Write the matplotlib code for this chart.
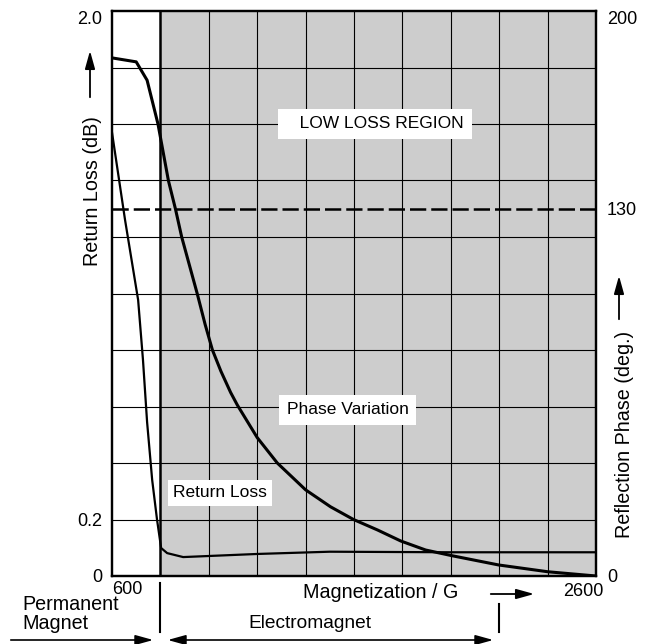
import matplotlib
matplotlib.use("Agg")
import matplotlib.pyplot as plt
from matplotlib.patches import FancyArrowPatch
from matplotlib.transforms import blended_transform_factory

plt.rcParams["font.family"] = ["Liberation Sans", "DejaVu Sans"]

# ---------------------------------------------------------------------
# Data
# ---------------------------------------------------------------------
# Phase variation (right axis, deg.) vs magnetization (G)
phase_field = [600, 700, 745, 790, 833, 862, 888, 952, 985, 1015, 1050,
               1090, 1118, 1200, 1283, 1400, 1503, 1598, 1697, 1793, 1896,
               2004, 2198, 2401, 2600]
phase_deg = [183.4, 182.0, 175.5, 160.0, 140.0, 130.0, 120.0, 100.0, 89.0,
             80.0, 72.5, 65.0, 60.5, 49.0, 40.0, 30.5, 24.5, 20.0, 16.3,
             12.4, 9.2, 7.2, 3.9, 1.5, 0.0]

# Return loss (left axis, dB) vs magnetization (G)
loss_field = [600, 654, 708, 728, 745, 766, 786, 803, 828, 894, 1200, 1500,
              2000, 2600]
loss_db = [1.57, 1.26, 0.977, 0.765, 0.545, 0.34, 0.2, 0.099, 0.081, 0.067,
           0.078, 0.086, 0.084, 0.084]

# Low-loss phase limit (deg.)
phase_limit = 130

# Region boundaries (G)
field_min, field_max = 600, 2600
electromagnet_start = 800
electromagnet_end = 2200

left_ticks = [0, 0.2, 2.0]
left_tick_labels = ["0", "0.2", "2.0"]
right_ticks = [0, 130, 200]
right_tick_labels = ["0", "130", "200"]

# ---------------------------------------------------------------------
# Figure
# ---------------------------------------------------------------------
W, H = 652, 644
fig = plt.figure(figsize=(W / 100, H / 100), dpi=100)


def fx(px):
    return px / W


def fy(py):
    return 1 - py / H


ax = fig.add_axes([fx(112), fy(576), fx(596) - fx(112), fy(11) - fy(576)])
ax2 = ax.twinx()

ax.set_xlim(field_min, field_max)
ax.set_ylim(0, 2.0)
ax2.set_ylim(0, 200)

# stippled region (electromagnet range)
ax.axvspan(electromagnet_start, field_max, color="#cdcdcd", lw=0, zorder=0)

# grid: 10 x 10 divisions
for g in range(field_min + 200, field_max, 200):
    ax.axvline(g, color="black", lw=1.8 if g == electromagnet_start else 0.8,
               zorder=1)
for v in [i * 0.2 for i in range(1, 10)]:
    ax.axhline(v, color="black", lw=0.8, zorder=1)

# curves
ax.plot(loss_field, loss_db, color="black", lw=1.6, zorder=3)
ax2.plot(phase_field, phase_deg, color="black", lw=2.2, zorder=3)
ax2.axhline(phase_limit, color="black", lw=1.8, dashes=(6.5, 2), zorder=3)

for a in (ax, ax2):
    for s in a.spines.values():
        s.set_linewidth(1.6)

# ticks
ax.set_xticks([])
ax.set_yticks(left_ticks)
ax.set_yticklabels(left_tick_labels)
ax.tick_params(axis="y", length=0, pad=7, labelsize=13)
ax2.set_yticks(right_ticks)
ax2.set_yticklabels(right_tick_labels)
ax2.tick_params(axis="y", length=0, pad=8, labelsize=13)
for lab in ax.get_yticklabels() + ax2.get_yticklabels():
    if lab.get_text() in ("2.0", "200"):
        lab.set_va("top")

# in-plot labels
box = dict(facecolor="white", edgecolor="none", boxstyle="square,pad=0.45")
ax.text(0.543, 0.8, "   LOW LOSS REGION", transform=ax.transAxes,
        ha="center", va="center", fontsize=12.5, bbox=box, zorder=4)
ax.text(0.487, 0.294, "Phase Variation", transform=ax.transAxes,
        ha="center", va="center", fontsize=12.5, bbox=box, zorder=4)
ax.text(0.223, 0.147, "Return Loss", transform=ax.transAxes,
        ha="center", va="center", fontsize=12.5,
        bbox=dict(facecolor="white", edgecolor="none",
                  boxstyle="square,pad=0.3"), zorder=4)

# x-range labels
ax.annotate("600", xy=(field_min, 0), xycoords=("data", "axes fraction"),
            xytext=(11, -10), textcoords="offset points",
            ha="center", va="center", fontsize=13, annotation_clip=False)
ax.annotate("2600", xy=(field_max, 0), xycoords=("data", "axes fraction"),
            xytext=(-9, -11.5), textcoords="offset points",
            ha="center", va="center", fontsize=13, annotation_clip=False)

head = "-|>,head_length=0.9,head_width=0.25"


def arrow(p0, p1, style=head, lw=1.3):
    fig.add_artist(FancyArrowPatch(
        (fx(p0[0]), fy(p0[1])), (fx(p1[0]), fy(p1[1])),
        transform=fig.transFigure, arrowstyle=style, color="black",
        lw=lw, mutation_scale=12))


fig.text(fx(381), fy(592), "Magnetization / G", ha="center", va="center",
         fontsize=14.2)
arrow((488, 594), (537, 594))

# axis titles with arrows
fig.text(fx(92), fy(191), "Return Loss (dB)", rotation=90,
         ha="center", va="center", fontsize=14.2)
arrow((90, 100), (90, 48))
fig.text(fx(625), fy(434), "Reflection Phase (deg.)", rotation=90,
         ha="center", va="center", fontsize=14.2)
arrow((619, 322), (619, 273))

# magnet ranges below the axis
bt = blended_transform_factory(ax.transData, fig.transFigure)
fig.add_artist(plt.Line2D([electromagnet_start] * 2, [fy(583), fy(632)],
                          transform=bt, color="black", lw=1.5))
fig.add_artist(plt.Line2D([electromagnet_end] * 2, [fy(604), fy(632)],
                          transform=bt, color="black", lw=1.5))
fig.text(fx(22), fy(614), "Permanent\nMagnet", ha="left", va="center",
         fontsize=14.2, linespacing=0.95)
fig.text(fx(310), fy(623), "Electromagnet", ha="center", va="center",
         fontsize=13.8)
arrow((8, 640), (156, 640), lw=1.2)
arrow((165, 640), (496, 640), style="<|-|>,head_length=0.9,head_width=0.25",
      lw=1.2)

fig.savefig("out.png", dpi=100)
